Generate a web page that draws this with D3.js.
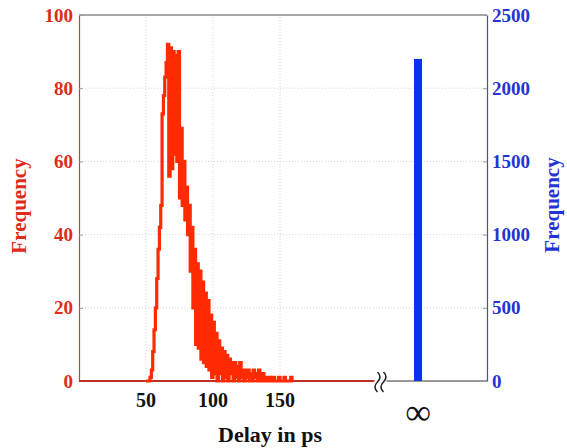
<!DOCTYPE html>
<html>
<head>
<meta charset="utf-8">
<script src="https://cdn.jsdelivr.net/npm/d3@7"></script>
<style>
body { margin: 0; background: #fff; }
text { font-family: "Liberation Serif", "Times New Roman", serif; font-weight: bold; }
</style>
</head>
<body>
<div id="chart"></div>
<script>
//data
var histStart = 50; // delay (ps) of the first 1 ps bin
var histCounts = [0, 0, 0, 1, 3, 8, 14, 20, 28, 36,
    42, 48, 73, 78, 83, 87, 92, 56, 91, 58,
    90, 62, 89, 60, 90, 50, 69, 48, 60, 44,
    53, 40, 48, 30, 42, 20, 36, 10, 32, 9,
    30, 6, 27, 5, 24, 4, 22, 3, 18, 1,
    16, 2, 13, 0, 11, 2, 9, 0, 8, 1,
    7, 0, 6, 2, 5, 0, 5, 1, 4, 0,
    5, 1, 3, 0, 3, 1, 3, 0, 2, 0,
    3, 1, 2, 0, 3, 0, 1, 2, 0, 1,
    0, 0, 1, 0, 0, 1, 0, 0, 0, 1,
    0, 0, 0, 1, 0, 0, 0, 0, 1, 0, 0];
var infCounts = [2200];           // blue bar, right axis
var infLabels = ["\u221E"];
var xTicks = [50, 100, 150];
var leftTicks = [0, 20, 40, 60, 80, 100];
var rightTicks = [0, 500, 1000, 1500, 2000, 2500];
var xLabel = "Delay in ps";
var yLabel = "Frequency";

//layout
var width = 567, height = 448;
var m = {top: 15, right: 80, bottom: 67, left: 79};
var xMax = 304.5, breakAt = 225, infPos = 253, infWidth = 6;
var red = "#ff2a00", redText = "#e02a1a", blue = "#0a32f5", blueText = "#1f35d6";

var svg = d3.select("#chart").append("svg").attr("width", width).attr("height", height);

var x = d3.scaleLinear().domain([0, xMax]).range([m.left, width - m.right]),
    yL = d3.scaleLinear().domain([0, 100]).range([height - m.bottom, m.top]),
    yR = d3.scaleLinear().domain([0, 2500]).range([height - m.bottom, m.top]);

//grid lines
svg.append("g").selectAll("line")
    .data(leftTicks.filter(function(d){ return d > 0 && d < 100; }))
    .enter().append("line")
    .attr("x1", x(0)).attr("x2", x(xMax))
    .attr("y1", function(d){ return yL(d); }).attr("y2", function(d){ return yL(d); })
    .attr("stroke", "#d4d4d4").attr("stroke-dasharray", "1,2");
svg.append("g").selectAll("line")
    .data(xTicks)
    .enter().append("line")
    .attr("x1", function(d){ return x(d); }).attr("x2", function(d){ return x(d); })
    .attr("y1", yL(0)).attr("y2", yL(100))
    .attr("stroke", "#d4d4d4").attr("stroke-dasharray", "1,2");

//top and bottom frame
svg.append("line").attr("x1", x(0)).attr("x2", x(xMax)).attr("y1", yL(100)).attr("y2", yL(100))
    .attr("stroke", "#555").attr("stroke-width", 1.2);
svg.append("line").attr("x1", x(0)).attr("x2", x(xMax)).attr("y1", yL(0)).attr("y2", yL(0))
    .attr("stroke", "#777").attr("stroke-width", 1.5);

//left axis
var gl = svg.append("g")
    .attr("transform", "translate(" + x(0) + ",0)")
    .call(d3.axisLeft(yL).tickValues(leftTicks).tickFormat(d3.format("d"))
        .tickSize(-4).tickSizeOuter(0).tickPadding(6));
gl.select(".domain").attr("stroke", "#b04a40").attr("stroke-width", 1.2);
gl.selectAll(".tick line").attr("stroke", "#999");
gl.selectAll("text").attr("fill", redText).style("font-size", "19px");

//right axis
var gr = svg.append("g")
    .attr("transform", "translate(" + x(xMax) + ",0)")
    .call(d3.axisRight(yR).tickValues(rightTicks).tickFormat(d3.format("d"))
        .tickSize(-4).tickSizeOuter(0).tickPadding(5));
gr.select(".domain").attr("stroke", "#4a4ab0").attr("stroke-width", 1.2);
gr.selectAll(".tick line").attr("stroke", "#999");
gr.selectAll("text").attr("fill", blueText).style("font-size", "19px");

//red baseline up to the break
svg.append("line").attr("x1", x(0)).attr("x2", x(breakAt - 4)).attr("y1", yL(0)).attr("y2", yL(0))
    .attr("stroke", "#c0301e").attr("stroke-width", 2);

//histogram as stairs
var line = d3.line()
    .x(function(d, i){ return x(histStart + i); })
    .y(function(d){ return yL(d); })
    .curve(d3.curveStepAfter);
svg.append("path").datum(histCounts)
    .attr("d", line)
    .attr("fill", "none").attr("stroke", red).attr("stroke-width", 3.2);

//axis break mark
var bx = x(breakAt), by = yL(0);
svg.append("rect").attr("x", bx - 6).attr("y", by - 2).attr("width", 12).attr("height", 4).attr("fill", "#fff");
[-3, 3].forEach(function(dx){
    svg.append("path")
        .attr("d", "M" + (bx + dx) + "," + (by - 9) + " q5,5 0,10 q-5,5 0,10")
        .attr("fill", "none").attr("stroke", "#222").attr("stroke-width", 1.5);
});

//infinity bar
svg.selectAll("rect.inf").data(infCounts).enter().append("rect")
    .attr("class", "inf")
    .attr("x", x(infPos - infWidth / 2))
    .attr("width", x(infWidth) - x(0))
    .attr("y", function(d){ return yR(d); })
    .attr("height", function(d){ return yR(0) - yR(d); })
    .attr("fill", blue);

//x tick labels
svg.append("g").selectAll("text").data(xTicks).enter().append("text")
    .attr("x", function(d){ return x(d); }).attr("y", 407)
    .attr("text-anchor", "middle").style("font-size", "20px").attr("fill", "#111")
    .text(function(d){ return d; });
svg.append("text").attr("x", x(infPos)).attr("y", 424)
    .attr("text-anchor", "middle").style("font-size", "36px").style("font-weight", "normal")
    .attr("fill", "#111").text(infLabels[0]);

//axis titles
svg.append("text").attr("x", 270).attr("y", 442).attr("text-anchor", "middle")
    .style("font-size", "22px").attr("fill", "#111").text(xLabel);
svg.append("text").attr("transform", "translate(26,206) rotate(-90)").attr("text-anchor", "middle")
    .style("font-size", "21px").attr("fill", redText).text(yLabel);
svg.append("text").attr("transform", "translate(559,205) rotate(-90)").attr("text-anchor", "middle")
    .style("font-size", "21px").attr("fill", blueText).text(yLabel);
</script>
</body>
</html>
